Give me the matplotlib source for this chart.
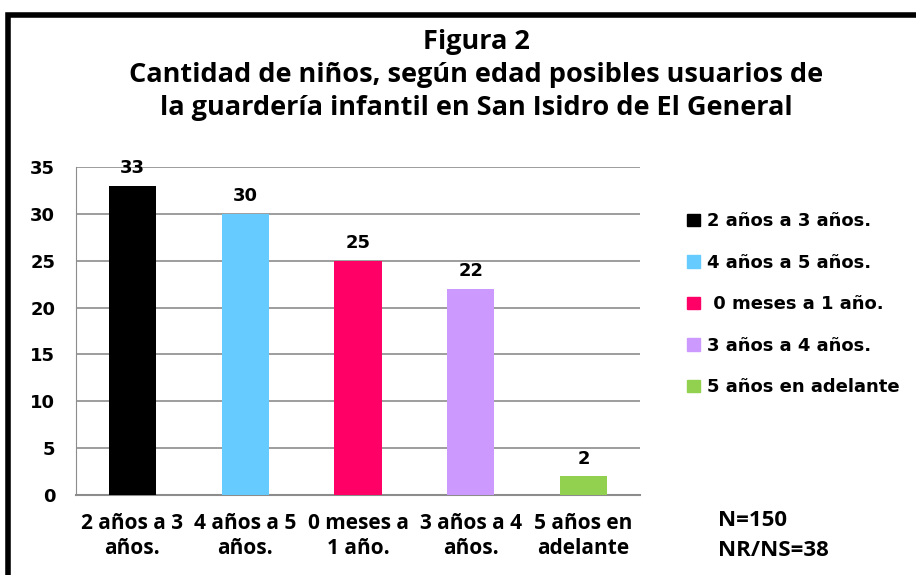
import matplotlib

matplotlib.use("Agg")
import matplotlib.pyplot as plt
from matplotlib.patches import Rectangle

categories = ["2 años a 3\naños.", "4 años a 5\naños.", "0 meses a\n1 año.", "3 años a 4\naños.", "5 años en\nadelante"]
legend_labels = ["2 años a 3 años.", "4 años a 5 años.", " 0 meses a 1 año.", "3 años a 4 años.", "5 años en adelante"]
values = [33, 30, 25, 22, 2]
colors = ["#000000", "#66CCFF", "#FF0066", "#CC99FF", "#92D050"]
yticks = [0, 5, 10, 15, 20, 25, 30, 35]

TITLE_FONT = ["Open Sans", "DejaVu Sans"]
TICK_FONT = ["DejaVu Sans"]

fig = plt.figure(figsize=(9.16, 5.75), dpi=100)
W, H = 916, 575

# outer chart frame (runs off right and bottom edges like the source image)
fig.patches.append(Rectangle((8 / W, -0.05), 1.0, 1 - 15 / H + 0.05,
                             transform=fig.transFigure, fill=False, edgecolor="black",
                             linewidth=4, zorder=10))

title_lines = ["Figura 2",
               "Cantidad de niños, según edad posibles usuarios de",
               "la guardería infantil en San Isidro de El General"]
for yy, line in zip((42, 75, 108), title_lines):
    fig.text(476 / W, 1 - yy / H, line, ha="center", va="center",
             fontsize=19.5, fontweight="bold", family=TITLE_FONT)

left, right = 76, 640
top, bottom = 167, 495
ax = fig.add_axes([left / W, 1 - bottom / H, (right - left) / W, (bottom - top) / H])

x = list(range(len(values)))
ax.bar(x, values, width=0.42, color=colors, zorder=3)
for xi, v in zip(x, values):
    ax.text(xi, v + 0.9, str(v), ha="center", va="bottom", fontsize=13,
            fontweight="bold", family=TICK_FONT)

ax.set_xlim(-0.5, len(values) - 0.5)
ax.set_ylim(0, 35)
ax.set_yticks(yticks)
ax.set_yticklabels([str(t) for t in yticks], fontsize=13, fontweight="bold", family=TICK_FONT)
ax.tick_params(axis="y", length=0, pad=15)
ax.set_xticks(x)
ax.set_xticklabels(categories, fontsize=15, fontweight="bold", family=TITLE_FONT,
                   linespacing=1.25)
ax.tick_params(axis="x", length=0, pad=13)
ax.grid(axis="y", color="#8c8c8c", linewidth=1.2, zorder=0)
for side in ("top", "right"):
    ax.spines[side].set_visible(False)
ax.spines["left"].set_color("#8c8c8c")
ax.spines["bottom"].set_color("#8c8c8c")
ax.spines["bottom"].set_linewidth(1.5)

handles = [Rectangle((0, 0), 1, 1, color=c) for c in colors]
fig.legend(handles, legend_labels, loc="upper left", bbox_to_anchor=(671 / W, 1 - 196 / H),
           frameon=False, prop={"family": TICK_FONT, "weight": "bold", "size": 13},
           handlelength=0.7, handleheight=0.7, handletextpad=0.4, labelspacing=1.3)

fig.text(718 / W, 1 - 520 / H, "N=150", ha="left", va="center", fontsize=16,
         fontweight="bold", family=TITLE_FONT)
fig.text(718 / W, 1 - 550 / H, "NR/NS=38", ha="left", va="center", fontsize=16,
         fontweight="bold", family=TITLE_FONT)

fig.savefig("out.png", dpi=100)
